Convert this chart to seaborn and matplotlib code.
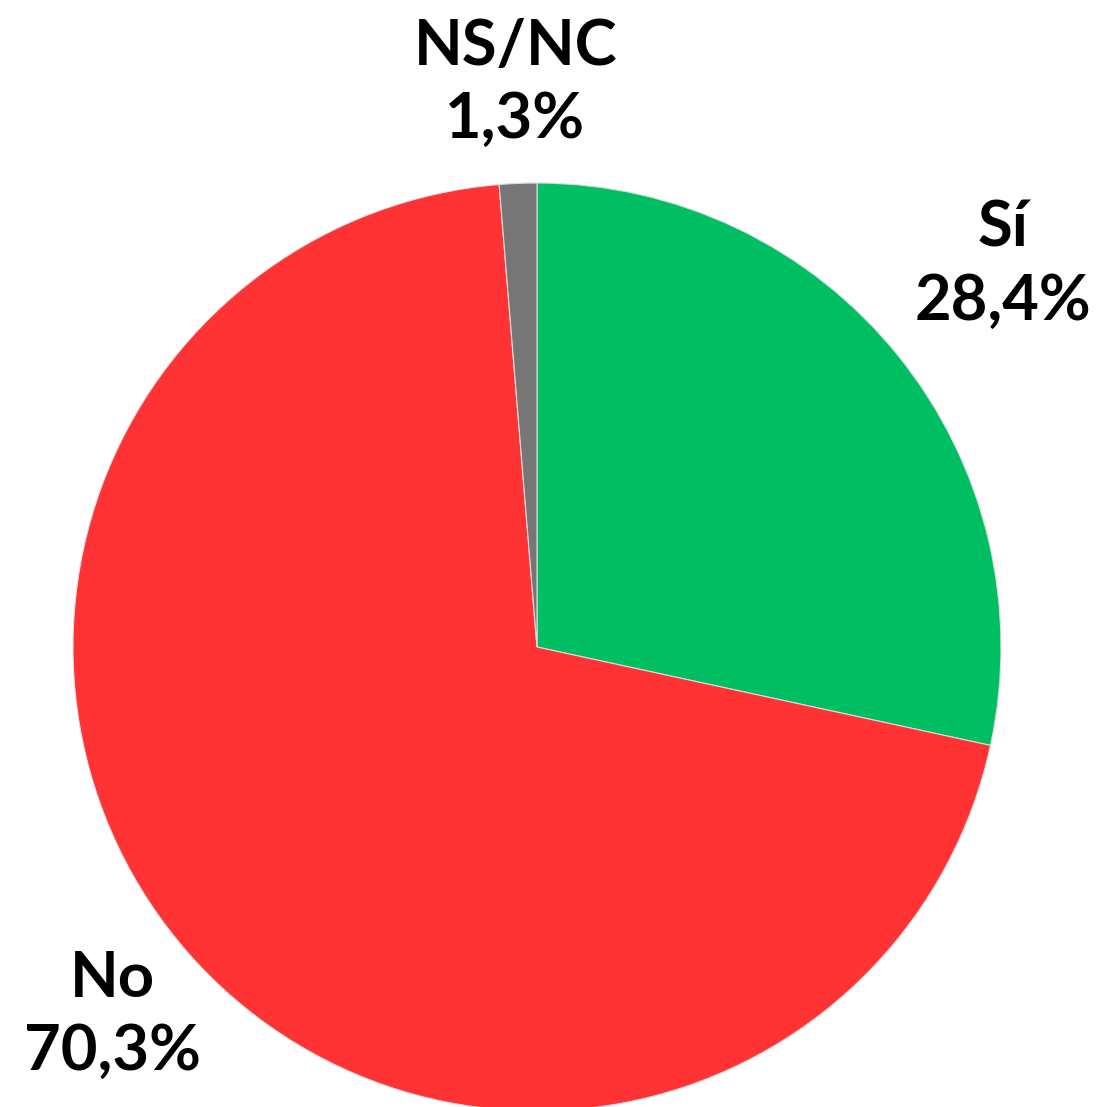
import matplotlib
matplotlib.use("Agg")
import matplotlib.pyplot as plt
import seaborn as sns

# data
labels = ["Sí", "No", "NS/NC"]
values = [28.4, 70.3, 1.3]
colors = ["#00BF63", "#FF3333", "#767676"]
value_text = ["28,4%", "70,3%", "1,3%"]

# label anchor positions (data units, pie radius = 1)
label_pos = [(1.004, 0.823), (-0.915, -0.795), (-0.047, 1.214)]


def main():
    sns.set_style("white")
    plt.rcParams["font.family"] = ["Lato", "DejaVu Sans"]

    fig = plt.figure(figsize=(11, 11.07), dpi=100)
    ax = fig.add_axes([0, 0, 1, 1])

    ax.pie(values, colors=colors, startangle=90, counterclock=False,
           radius=1, center=(0, 0),
           wedgeprops={"edgecolor": "#dddddd", "linewidth": 0.8})

    for lab, txt, (x, y) in zip(labels, value_text, label_pos):
        ax.text(x, y, f"{lab}\n{txt}", ha="center", va="center",
                fontsize=45.5, fontweight="bold", color="black",
                linespacing=1.32)

    # scale: 464 px per unit, centre at (537, 647) from top-left
    s = 464.0
    ax.set_xlim(-537 / s, (1100 - 537) / s)
    ax.set_ylim(-(1107 - 647) / s, 647 / s)
    ax.set_aspect("auto")
    ax.axis("off")

    fig.savefig("out.png", dpi=100)


main()
